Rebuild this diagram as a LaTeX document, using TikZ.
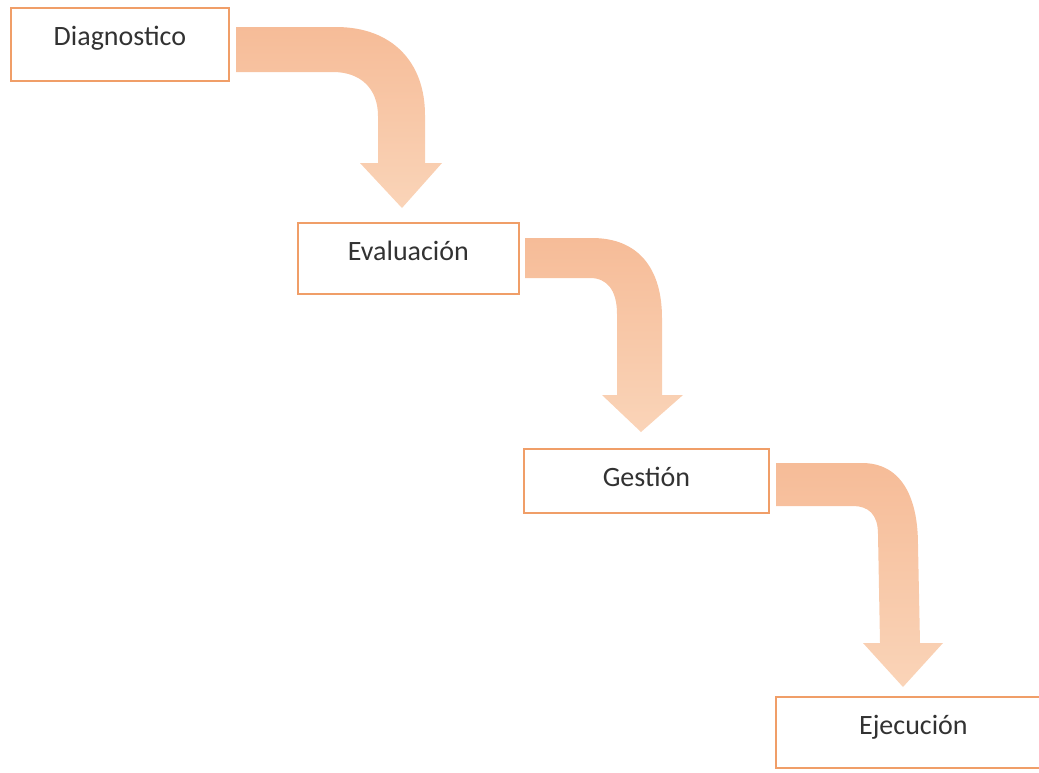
\documentclass[tikz,border=0pt]{standalone}
\usepackage{fontspec}
\setmainfont{Carlito}
\definecolor{borde}{RGB}{240,158,104}
\definecolor{flechaA}{RGB}{246,188,152}
\definecolor{flechaB}{RGB}{250,212,184}
\definecolor{texto}{RGB}{50,50,50}
\tikzset{
  etapa/.style={draw=borde, line width=1.8pt, anchor=north west, inner sep=0pt,
    text height=38pt, font=\fontsize{28}{32}\selectfont, text=texto},
  flecha/.style={top color=flechaA, bottom color=flechaB}
}
\begin{document}
\begin{tikzpicture}[x=1pt, y=-1pt]
  \useasboundingbox (0,0) rectangle (1039,772);

  \node[etapa, minimum width=218pt, text depth=35pt] (diag) at (10,7)   {Diagnostico};
  \node[etapa, minimum width=221pt, text depth=33pt] (eval) at (297,222) {Evaluación};
  \node[etapa, minimum width=245pt, text depth=26pt] (gest) at (523,448) {Gestión};
  \node[etapa, minimum width=275pt, text depth=33pt] (ejec) at (775,696) {Ejecución};

  % flechas curvas
  \shade[flecha] (236,27) -- (336,27) .. controls (392,27) and (425,62) .. (425,115)
    -- (425,163) -- (442,163) -- (402,208) -- (360,163) -- (378,163) -- (378,116)
    .. controls (378,88) and (360,72) .. (333,72) -- (236,72) -- cycle;
  \shade[flecha] (525,238) -- (592,238) .. controls (638,238) and (662,268) .. (662,318)
    -- (662,395) -- (683,395) -- (641,432) -- (602,395) -- (617,395) -- (617,314)
    .. controls (617,290) and (607,278) .. (590,278) -- (525,278) -- cycle;
  \shade[flecha] (776,463) -- (862,463) .. controls (900,463) and (918,495) .. (918,545)
    -- (920,643) -- (943,643) -- (903,687) -- (863,643) -- (880,643) -- (878,534)
    .. controls (878,514) and (868,506) .. (853,506) -- (776,506) -- cycle;
\end{tikzpicture}
\end{document}
